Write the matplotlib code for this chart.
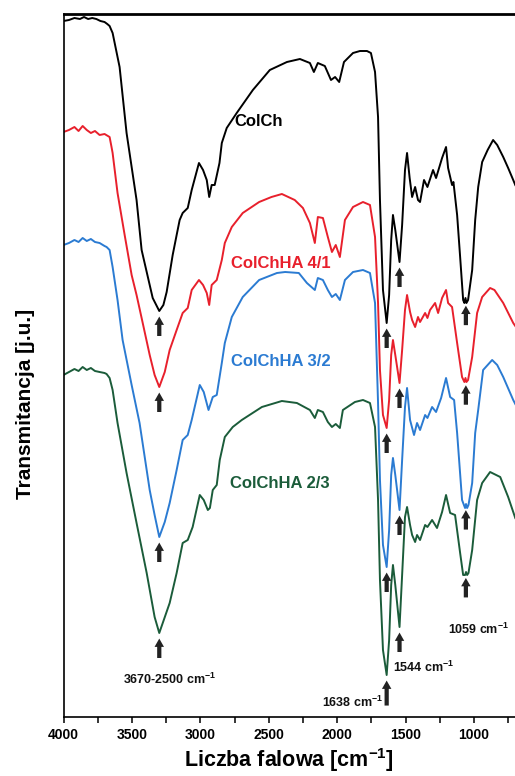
import numpy as np
import matplotlib
matplotlib.use('Agg')
import matplotlib.pyplot as plt

plt.rcParams['font.family'] = ['Liberation Sans', 'DejaVu Sans']
plt.rcParams['font.weight'] = 'bold'

# FTIR spectra (arbitrary transmittance units, curves offset)
wn_colch = [4000, 3960, 3920, 3880, 3850, 3820, 3790, 3760, 3730, 3700, 3680, 3663, 3641, 3590, 3539,
            3466, 3429, 3370, 3348, 3300, 3270, 3246, 3202, 3173, 3151, 3129, 3092, 3063, 3010, 2980,
            2953, 2935, 2917, 2895, 2860, 2843, 2807, 2734, 2616, 2492, 2367, 2272, 2199, 2170, 2141,
            2090, 2045, 2015, 1985, 1950, 1884, 1833, 1782, 1753, 1723, 1701, 1687, 1665, 1638, 1620,
            1605, 1592, 1575, 1544, 1525, 1504, 1489, 1470, 1452, 1430, 1409, 1394, 1365, 1340, 1299,
            1277, 1233, 1204, 1189, 1160, 1150, 1123, 1101, 1079, 1070, 1062, 1055, 1043, 1013, 991,
            969, 940, 900, 860, 830, 786, 750, 713, 698]
t_colch = [696, 697, 699, 698, 700, 698, 699, 698, 696, 695, 693, 691, 684, 650, 584,
           517, 467, 432, 419, 406, 412, 425, 462, 482, 497, 504, 509, 527, 554, 547,
           537, 520, 532, 532, 554, 574, 589, 604, 627, 647, 655, 658, 654, 645, 654,
           651, 637, 640, 635, 655, 664, 666, 666, 664, 645, 600, 517, 427, 394, 422,
           477, 502, 487, 455, 492, 547, 564, 539, 520, 530, 517, 515, 537, 530, 547,
           539, 559, 570, 549, 532, 535, 502, 460, 417, 414, 419, 414, 417, 447, 497,
           530, 555, 567, 577, 572, 560, 549, 537, 532]

wn_41 = [4000, 3960, 3920, 3890, 3860, 3830, 3800, 3770, 3736, 3700, 3663, 3649, 3641, 3605, 3553,
         3502, 3466, 3429, 3370, 3334, 3300, 3260, 3224, 3173, 3129, 3092, 3063, 3010, 2980, 2953,
         2935, 2917, 2880, 2843, 2821, 2770, 2690, 2570, 2480, 2404, 2310, 2250, 2199, 2163, 2141,
         2104, 2068, 2038, 2010, 1980, 1943, 1884, 1811, 1760, 1723, 1701, 1687, 1665, 1638, 1620,
         1605, 1592, 1575, 1544, 1525, 1504, 1489, 1467, 1452, 1430, 1409, 1394, 1357, 1340, 1321,
         1284, 1262, 1233, 1204, 1189, 1160, 1123, 1087, 1070, 1062, 1055, 1043, 1013, 977, 940,
         882, 850, 786, 713, 698]
t_41 = [585, 587, 590, 586, 591, 587, 584, 586, 582, 583, 580, 570, 564, 524, 482,
        442, 422, 399, 362, 342, 330, 345, 367, 387, 404, 409, 427, 437, 432, 424,
        412, 432, 437, 457, 474, 490, 504, 515, 520, 523, 517, 509, 494, 474, 500,
        499, 480, 465, 472, 460, 497, 510, 515, 512, 480, 414, 347, 302, 289, 317,
        362, 377, 362, 334, 367, 407, 422, 405, 397, 390, 400, 395, 404, 399, 407,
        414, 404, 419, 427, 414, 410, 374, 340, 335, 339, 335, 337, 360, 404, 420,
        429, 427, 414, 394, 391]

wn_32 = [4000, 3960, 3920, 3890, 3860, 3830, 3800, 3770, 3736, 3700, 3685, 3663, 3641, 3605, 3568,
         3502, 3444, 3370, 3334, 3300, 3260, 3224, 3173, 3129, 3092, 3063, 3004, 2975, 2940, 2909,
         2880, 2843, 2821, 2770, 2690, 2570, 2440, 2380, 2280, 2221, 2163, 2141, 2104, 2068, 2038,
         2010, 1980, 1943, 1884, 1811, 1760, 1723, 1701, 1687, 1665, 1638, 1620, 1605, 1592, 1575,
         1544, 1525, 1504, 1489, 1467, 1438, 1416, 1394, 1357, 1340, 1306, 1277, 1240, 1204, 1174,
         1145, 1123, 1087, 1065, 1058, 1050, 1040, 1013, 991, 969, 933, 867, 830, 786, 713, 698]
t_32 = [472, 474, 477, 475, 479, 476, 478, 475, 474, 471, 470, 467, 450, 417, 377,
        332, 294, 227, 202, 180, 195, 214, 247, 277, 282, 297, 332, 325, 307, 320,
        322, 354, 374, 400, 420, 437, 444, 445, 444, 434, 427, 439, 437, 427, 420,
        423, 417, 437, 445, 447, 444, 414, 314, 237, 172, 150, 187, 242, 259, 242,
        207, 257, 310, 329, 297, 282, 294, 287, 302, 299, 310, 305, 319, 339, 320,
        317, 284, 217, 209, 213, 209, 212, 234, 284, 307, 347, 357, 352, 340, 317, 313]

wn_23 = [4000, 3960, 3920, 3890, 3860, 3830, 3800, 3770, 3736, 3700, 3685, 3663, 3641, 3605, 3539,
         3466, 3392, 3334, 3300, 3224, 3173, 3129, 3092, 3056, 3004, 2975, 2945, 2930, 2909, 2880,
         2858, 2821, 2763, 2697, 2550, 2404, 2294, 2199, 2163, 2141, 2104, 2068, 2038, 2010, 1980,
         1958, 1870, 1811, 1760, 1723, 1701, 1687, 1665, 1638, 1620, 1605, 1592, 1575, 1544, 1525,
         1504, 1489, 1467, 1452, 1430, 1416, 1394, 1357, 1340, 1306, 1270, 1233, 1204, 1174, 1138,
         1101, 1079, 1065, 1058, 1050, 1040, 1013, 977, 940, 882, 808, 750, 698]
t_23 = [342, 345, 348, 346, 350, 347, 349, 346, 345, 344, 343, 339, 327, 294, 244,
        194, 144, 100, 84, 114, 144, 174, 177, 190, 222, 217, 207, 209, 227, 232,
        257, 280, 290, 297, 310, 316, 314, 307, 299, 307, 305, 295, 290, 293, 289,
        307, 315, 317, 314, 290, 217, 137, 67, 42, 77, 132, 152, 132, 90, 142,
        200, 210, 192, 182, 175, 182, 177, 192, 190, 197, 189, 205, 222, 204, 202,
        164, 142, 142, 145, 142, 144, 167, 217, 234, 245, 240, 220, 199]

names = ['ColCh', 'ColChHA 4/1', 'ColChHA 3/2', 'ColChHA 2/3']
colors = ['#000000', '#e8202c', '#2b7bd2', '#1b5c3a']
spectra = [(wn_colch, t_colch), (wn_41, t_41), (wn_32, t_32), (wn_23, t_23)]

# label anchor (wavenumber, transmittance) for each sample name
name_x = [2748, 2777, 2777, 2785]
name_y = [595, 454, 355, 233]

# marked bands
band_wn = [3300, 1638, 1544, 1059]
band_text = ['3670-2500 cm$^{\\mathregular{-1}}$', '1638 cm$^{\\mathregular{-1}}$',
             '1544 cm$^{\\mathregular{-1}}$', '1059 cm$^{\\mathregular{-1}}$']
band_text_x = [3224, 1665, 1592, 969]
band_text_y = [38, 15, 50, 88]
band_text_ha = ['center', 'right', 'left', 'center']

fig = plt.figure(figsize=(5.15, 7.76), dpi=100)
ax = fig.add_axes([63.5 / 515, 59 / 776, 451.5 / 515, 703 / 776])

for (wn, t), c, n, lx, ly in zip(spectra, colors, names, name_x, name_y):
    ax.plot(wn, t, color=c, lw=1.4)
    ax.text(lx, ly, n, color=c, fontsize=12, fontweight='bold', ha='left', va='center')

# arrows under the bands
for k, (wn, t) in enumerate(spectra):
    wn_a = np.array(wn)[::-1]
    t_a = np.array(t)[::-1]
    for b in band_wn:
        yb = np.interp(b, wn_a, t_a)
        length = 18 if (k == 3 and b == 1638) else 14
        ax.annotate('', xy=(b, yb), xytext=(0, -(4 + length)), textcoords='offset points',
                    arrowprops=dict(arrowstyle='simple,head_length=0.75,head_width=0.85,tail_width=0.38',
                                    mutation_scale=8, color='#222222', shrinkA=0, shrinkB=4, lw=0))

for s, x, y, ha in zip(band_text, band_text_x, band_text_y, band_text_ha):
    ax.text(x, y, s, fontsize=9, fontweight='bold', ha=ha, va='center', color='#111111')

ax.set_xlim(4000, 700)
ax.set_ylim(0, 703)
ax.set_xticks([4000, 3500, 3000, 2500, 2000, 1500, 1000])
ax.set_xticks(np.arange(3750, 700, -500), minor=True)
ax.tick_params(axis='x', which='major', direction='out', length=4, width=1.1, labelsize=10, pad=4)
ax.tick_params(axis='x', which='minor', direction='out', length=4, width=1.1)
ax.set_yticks([])
for lab in ax.get_xticklabels():
    lab.set_fontweight('bold')

ax.spines['right'].set_visible(False)
for sp in ['left', 'bottom']:
    ax.spines[sp].set_linewidth(1.2)
ax.spines['top'].set_linewidth(2.0)

ax.set_xlabel('Liczba falowa [cm$^{\\mathregular{-1}}$]', fontsize=15.5, fontweight='bold', labelpad=3)
ax.set_ylabel('Transmitancja [j.u.]', fontsize=15, fontweight='bold')
ax.yaxis.set_label_coords(-0.063, 0.445)

fig.savefig('out.png', dpi=100)
